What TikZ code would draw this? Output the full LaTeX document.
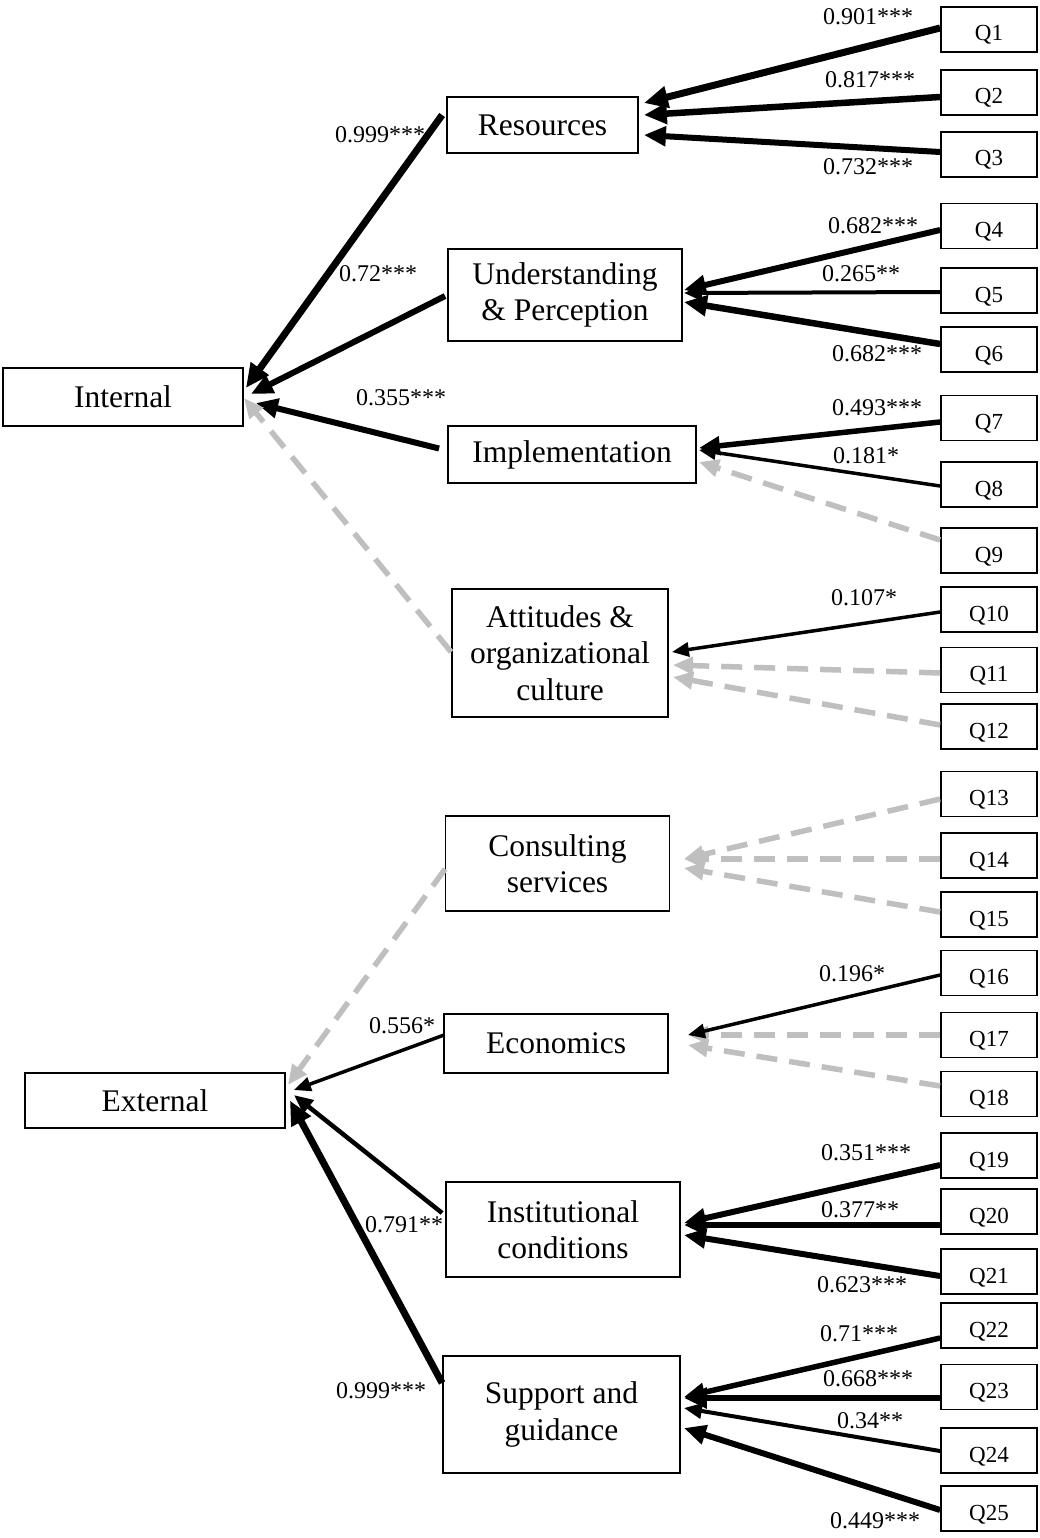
\documentclass[tikz,border=0pt]{standalone}
\usepackage{fontspec}
\setmainfont{Liberation Serif}
\usetikzlibrary{arrows.meta,calc}
\definecolor{nsgray}{RGB}{191,191,191}
\begin{document}
\begin{tikzpicture}[x=1pt,y=-1pt,
  box/.style={draw,line width=1.8pt,inner sep=0pt,align=center,font=\fontsize{31.5}{36.5}\selectfont},
  qbox/.style={draw,line width=1.8pt,inner sep=0pt,minimum width=96pt,minimum height=45pt,font=\fontsize{23}{26}\selectfont,text height=23pt,text depth=0pt},
  coef/.style={inner sep=0pt,font=\fontsize{24}{26}\selectfont,text height=16pt,text depth=0pt},
  lnk/.style={line width=#1,-{Triangle[length=10pt 2,width=7pt 2]}},
  ns/.style={line width=5.5pt,nsgray,dash pattern=on 21pt off 12pt,-{Triangle[length=9pt 2,width=6pt 2]}}
]
\useasboundingbox (0,0) rectangle (1039,1538);
\fill[white] (0,0) rectangle (1039,1538);

% latent boxes
\node[box,minimum width=240pt,minimum height=58pt] (int) at (123,397) {Internal};
\node[box,minimum width=260pt,minimum height=55pt] (ext) at (155,1100.5) {External};
\node[box,minimum width=191pt,minimum height=56pt] (res) at (542.5,125) {Resources};
\node[box,minimum width=234pt,minimum height=92pt] (und) at (565,295) {Understanding\\ \& Perception};
\node[box,minimum width=248pt,minimum height=57pt] (imp) at (572,454.5) {Implementation};
\node[box,minimum width=216pt,minimum height=128pt] (att) at (560,653) {Attitudes \&\\ organizational\\ culture};
\node[box,minimum width=224pt,minimum height=95pt] (con) at (557.5,863.5) {Consulting\\ services};
\node[box,minimum width=224pt,minimum height=59pt] (eco) at (556,1043.5) {Economics};
\node[box,minimum width=234pt,minimum height=95pt] (ins) at (563,1229.5) {Institutional\\ conditions};
\node[box,minimum width=237pt,minimum height=117pt] (sup) at (561.5,1414.5) {Support and\\ guidance};

% indicator boxes
\foreach \i/\y in {1/29.5,2/92.5,3/154.5,4/226,5/290.5,6/349.5,7/418,8/484.5,9/550.5,
  10/609.5,11/670,12/726.5,13/794,14/855.5,15/914.5,16/973,17/1035,18/1094,
  19/1155.5,20/1211.5,21/1271.5,22/1325.5,23/1387,24/1450.5,25/1508.5}
  \node[qbox] (q\i) at (989,\y) {Q\i};

% Internal
\draw[lnk=7pt] ($(res.west)+(-4,-10)$) -- ($(int.east)+(2,-9)$);
\draw[lnk=6pt] ($(und.west)+(-2,1)$) -- ($(int.east)+(7,-3)$);
\draw[lnk=6pt] ($(imp.west)+(-8,-6)$) -- ($(int.east)+(12,6)$);
\draw[ns] ($(att.west)+(0,-1)$) -- ($(int.east)+(0,1)$);

% External
\draw[ns] ($(con.west)+(0.5,5.5)$) -- ($(ext.east)+(2,-15.5)$);
\draw[lnk=3.5pt] ($(eco.west)+(1,-8.5)$) -- ($(ext.east)+(8,-10.5)$);
\draw[lnk=4.5pt] ($(ins.west)+(-3,-16.5)$) -- ($(ext.east)+(8,-5.5)$);
\draw[lnk=7pt] ($(sup.west)+(0,-31.5)$) -- ($(ext.east)+(4,0)$);

% Resources
\draw[lnk=7pt] ($(q1.west)+(0,-1.5)$) -- ($(res.east)+(5,-22)$);
\draw[lnk=6.5pt] ($(q2.west)+(0,4.5)$) -- ($(res.east)+(5,-10)$);
\draw[lnk=6pt] ($(q3.west)+(0,-2.5)$) -- ($(res.east)+(5,10)$);

% Understanding
\draw[lnk=6pt] ($(q4.west)+(0,4)$) -- ($(und.east)+(1,-5)$);
\draw[lnk=4pt] ($(q5.west)+(0,1.5)$) -- ($(und.east)+(1,-2)$);
\draw[lnk=6.5pt] ($(q6.west)+(0,-5.5)$) -- ($(und.east)+(1,7)$);

% Implementation
\draw[lnk=5.5pt] ($(q7.west)+(0,4)$) -- ($(imp.east)+(2,-6.5)$);
\draw[lnk=3.5pt] ($(q8.west)+(0,1.5)$) -- ($(imp.east)+(2,-4.5)$);
\draw[ns] ($(q9.west)+(0,-10.5)$) -- ($(imp.east)+(2,7.5)$);

% Attitudes
\draw[lnk=3.5pt] ($(q10.west)+(0,2.5)$) -- ($(att.east)+(3,-1)$);
\draw[ns] ($(q11.west)+(0,3)$) -- ($(att.east)+(4,12)$);
\draw[ns] ($(q12.west)+(0,-1.5)$) -- ($(att.east)+(4,24)$);

% Consulting
\draw[ns] ($(q13.west)+(0,5)$) -- ($(con.east)+(13.5,-4.5)$);
\draw[ns] ($(q14.west)+(0,3.5)$) -- ($(con.east)+(13.5,-4.5)$);
\draw[ns] ($(q15.west)+(0,-2.5)$) -- ($(con.east)+(13.5,4.5)$);

% Economics
\draw[ns] ($(q17.west)+(0,0)$) -- ($(eco.east)+(19,-8.5)$);
\draw[ns] ($(q18.west)+(0,-8)$) -- ($(eco.east)+(19,1.5)$);
\draw[lnk=3.5pt] ($(q16.west)+(0,2)$) -- ($(eco.east)+(19,-8.5)$);

% Institutional
\draw[lnk=6pt] ($(q19.west)+(0,9.5)$) -- ($(ins.east)+(3,-6.5)$);
\draw[lnk=6pt] ($(q20.west)+(0,13.5)$) -- ($(ins.east)+(3,-4.5)$);
\draw[lnk=6pt] ($(q21.west)+(0,4.5)$) -- ($(ins.east)+(3,5.5)$);

% Support
\draw[lnk=5.5pt] ($(q22.west)+(0,12.5)$) -- ($(sup.east)+(3,-17.5)$);
\draw[lnk=6.5pt] ($(q23.west)+(0,11)$) -- ($(sup.east)+(3,-16.5)$);
\draw[lnk=4pt] ($(q24.west)+(0,0.5)$) -- ($(sup.east)+(3,-6.5)$);
\draw[lnk=6pt] ($(q25.west)+(0,1.5)$) -- ($(sup.east)+(3,13.5)$);

% coefficients
\node[coef] (c1) at (380,135) {0.999***};
\node[coef] (c2) at (378,273) {0.72***};
\node[coef] (c3) at (401,397) {0.355***};
\node[coef] (c4) at (868,17) {0.901***};
\node[coef] (c5) at (870,80) {0.817***};
\node[coef] (c6) at (868,167) {0.732***};
\node[coef] (c7) at (873,226) {0.682***};
\node[coef] (c8) at (861,273) {0.265**};
\node[coef] (c9) at (877,353) {0.682***};
\node[coef] (c10) at (877,407) {0.493***};
\node[coef] (c11) at (866,455) {0.181*};
\node[coef] (c12) at (864,597) {0.107*};
\node[coef] (c13) at (852,973) {0.196*};
\node[coef] (c14) at (402,1025) {0.556*};
\node[coef] (c15) at (404,1224) {0.791**};
\node[coef] (c16) at (381,1390) {0.999***};
\node[coef] (c17) at (866,1152) {0.351***};
\node[coef] (c18) at (860,1209) {0.377**};
\node[coef] (c19) at (862,1284) {0.623***};
\node[coef] (c20) at (859,1333) {0.71***};
\node[coef] (c21) at (868,1378) {0.668***};
\node[coef] (c22) at (870,1420) {0.34**};
\node[coef] (c23) at (875,1520) {0.449***};
\end{tikzpicture}
\end{document}
